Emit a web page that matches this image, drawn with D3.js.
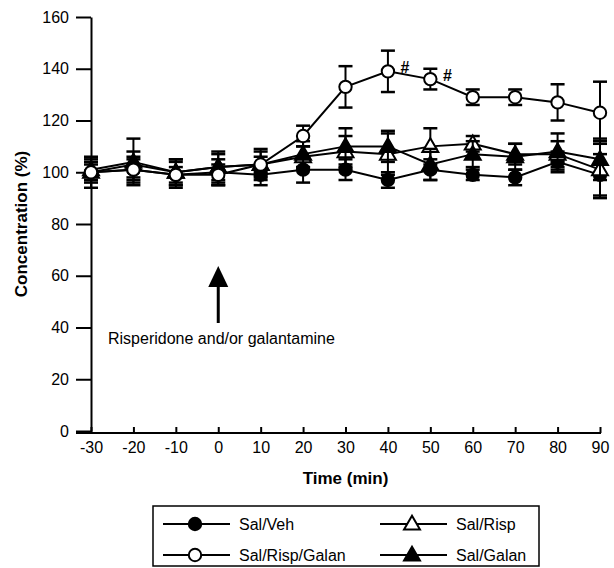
<!DOCTYPE html>
<html>
<head>
<meta charset="utf-8">
<script src="https://cdn.jsdelivr.net/npm/d3@7"></script>
<style>
  body { margin: 0; background: #fff; }
  text { font-family: Arial, "Liberation Sans", sans-serif; fill: #000; }
</style>
</head>
<body>
<svg id="board" width="614" height="568"></svg>
<script>
// time points (min)
let times = [-30, -20, -10, 0, 10, 20, 30, 40, 50, 60, 70, 80, 90]

// mean values (%) and SEM
let salVeh = [100, 101, 99, 100, 99, 101, 101, 97, 101, 99, 98, 104, 99]
let salVehErr = [4, 5, 5, 5, 4, 5, 4, 3, 4, 2, 3, 4, 8]

let salRisp = [101, 104, 100, 102, 103, 106, 108, 107, 110, 111, 107, 107, 101]
let salRispErr = [4, 9, 5, 6, 5, 4, 6, 8, 7, 3, 4, 5, 11]

let salGalan = [100, 103, 100, 102, 103, 107, 110, 110, 103, 107, 106, 108, 105]
let salGalanErr = [6, 5, 5, 5, 6, 5, 7, 6, 6, 5, 5, 7, 8]

let salRispGalan = [100, 101, 99, 99, 103, 114, 133, 139, 136, 129, 129, 127, 123]
let salRispGalanErr = [3, 4, 3, 4, 3, 4, 8, 8, 4, 3, 3, 7, 12]

// time points marked with # on Sal/Risp/Galan
let hashTimes = [40, 50]

let yTicks = [0, 20, 40, 60, 80, 100, 120, 140, 160]

let series = [
    {name: 'Sal/Veh', values: salVeh, err: salVehErr, shape: 'circle', fill: '#000'},
    {name: 'Sal/Risp', values: salRisp, err: salRispErr, shape: 'triangle', fill: '#fff'},
    {name: 'Sal/Galan', values: salGalan, err: salGalanErr, shape: 'triangle', fill: '#000'},
    {name: 'Sal/Risp/Galan', values: salRispGalan, err: salRispGalanErr, shape: 'circle', fill: '#fff'}
]

let board = d3.select('#board')

let x = d3.scaleLinear().domain([-30, 90]).range([91, 600])
let y = d3.scaleLinear().domain([0, 160]).range([431, 17])

let triangle = d3.symbol().type(d3.symbolTriangle).size(110)

let drawMarker = function(g, shape, fill, cx, cy) {
    if (shape === 'circle') {
        g.append('circle')
            .attr('cx', cx)
            .attr('cy', cy)
            .attr('r', 6.2)
            .attr('fill', fill)
            .attr('stroke', '#000')
            .attr('stroke-width', 2)
    } else {
        g.append('path')
            .attr('d', triangle)
            .attr('transform', 'translate(' + cx + ',' + (cy + 1) + ')')
            .attr('fill', fill)
            .attr('stroke', '#000')
            .attr('stroke-width', 2)
    }
}

// axes
let yAxis = d3.axisLeft(y)
    .tickValues(yTicks)
    .tickSizeInner(15)
    .tickSizeOuter(0)
    .tickPadding(7)

board.append('g')
    .attr('transform', 'translate(' + x(-30) + ',0)')
    .call(yAxis)
    .call(g => g.selectAll('line, path').attr('stroke', '#000').attr('stroke-width', 2))
    .call(g => g.selectAll('text').style('font-size', '16px'))

let xAxis = d3.axisBottom(x)
    .tickValues(times)
    .tickFormat(d => String(d))
    .tickSizeInner(-6)
    .tickSizeOuter(0)
    .tickPadding(9)

board.append('g')
    .attr('transform', 'translate(0,' + (y(0) + 2) + ')')
    .call(xAxis)
    .call(g => g.select('.domain').remove())
    .call(g => g.selectAll('line').attr('stroke', '#000').attr('stroke-width', 2))
    .call(g => g.selectAll('text').style('font-size', '16px'))

board.append('line')
    .attr('x1', x(-30) - 15)
    .attr('x2', x(90) + 1)
    .attr('y1', y(0) + 2)
    .attr('y2', y(0) + 2)
    .attr('stroke', '#000')
    .attr('stroke-width', 2)

board.append('text')
    .attr('x', (x(-30) + x(90)) / 2)
    .attr('y', 484)
    .attr('text-anchor', 'middle')
    .style('font-size', '17px')
    .style('font-weight', 'bold')
    .text('Time (min)')

board.append('text')
    .attr('transform', 'translate(27,' + ((y(0) + y(160)) / 2) + ') rotate(-90)')
    .attr('text-anchor', 'middle')
    .style('font-size', '17px')
    .style('font-weight', 'bold')
    .text('Concentration (%)')

// error bars, lines and markers
let line = d3.line()
    .x((d, i) => x(times[i]))
    .y(d => y(d))

series.forEach(s => {
    let g = board.append('g')
    s.values.forEach((v, i) => {
        let cx = x(times[i])
        let top = y(v + s.err[i])
        let bot = y(v - s.err[i])
        g.append('line')
            .attr('x1', cx).attr('x2', cx)
            .attr('y1', top).attr('y2', bot)
            .attr('stroke', '#000').attr('stroke-width', 2)
        ;[top, bot].forEach(cy => {
            g.append('line')
                .attr('x1', cx - 7).attr('x2', cx + 7)
                .attr('y1', cy).attr('y2', cy)
                .attr('stroke', '#000').attr('stroke-width', 2.5)
        })
    })
    g.append('path')
        .attr('d', line(s.values))
        .attr('fill', 'none')
        .attr('stroke', '#000')
        .attr('stroke-width', 2)
    s.values.forEach((v, i) => {
        drawMarker(g, s.shape, s.fill, x(times[i]), y(v))
    })
})

// # significance marks
hashTimes.forEach(t => {
    let i = times.indexOf(t)
    board.append('text')
        .attr('x', x(t) + 17)
        .attr('y', y(salRispGalan[i]) + 2)
        .attr('text-anchor', 'middle')
        .style('font-size', '16px')
        .style('font-weight', 'bold')
        .text('#')
})

// arrow for drug administration
board.append('line')
    .attr('x1', x(0)).attr('x2', x(0))
    .attr('y1', 284).attr('y2', 323)
    .attr('stroke', '#000').attr('stroke-width', 3)
board.append('path')
    .attr('d', 'M' + (x(0) - 10) + ',287 L' + x(0) + ',266 L' + (x(0) + 10) + ',287 Z')
    .attr('fill', '#000')

board.append('text')
    .attr('x', 108)
    .attr('y', 344)
    .style('font-size', '16px')
    .text('Risperidone and/or galantamine')

// legend
let legend = board.append('g')
legend.append('rect')
    .attr('x', 153).attr('y', 506)
    .attr('width', 386).attr('height', 60)
    .attr('fill', 'none')
    .attr('stroke', '#000')
    .attr('stroke-width', 1.5)

let legendItems = [
    {s: series[0], lx: 163, row: 0},
    {s: series[1], lx: 380, row: 0},
    {s: series[3], lx: 163, row: 1},
    {s: series[2], lx: 380, row: 1}
]

legendItems.forEach(item => {
    let cy = 524 + item.row * 31
    legend.append('line')
        .attr('x1', item.lx).attr('x2', item.lx + 67)
        .attr('y1', cy).attr('y2', cy)
        .attr('stroke', '#000').attr('stroke-width', 2)
    drawMarker(legend, item.s.shape, item.s.fill, item.lx + 32, cy)
    legend.append('text')
        .attr('x', item.lx + 76)
        .attr('y', cy + 6)
        .style('font-size', '16px')
        .text(item.s.name)
})
</script>
</body>
</html>
